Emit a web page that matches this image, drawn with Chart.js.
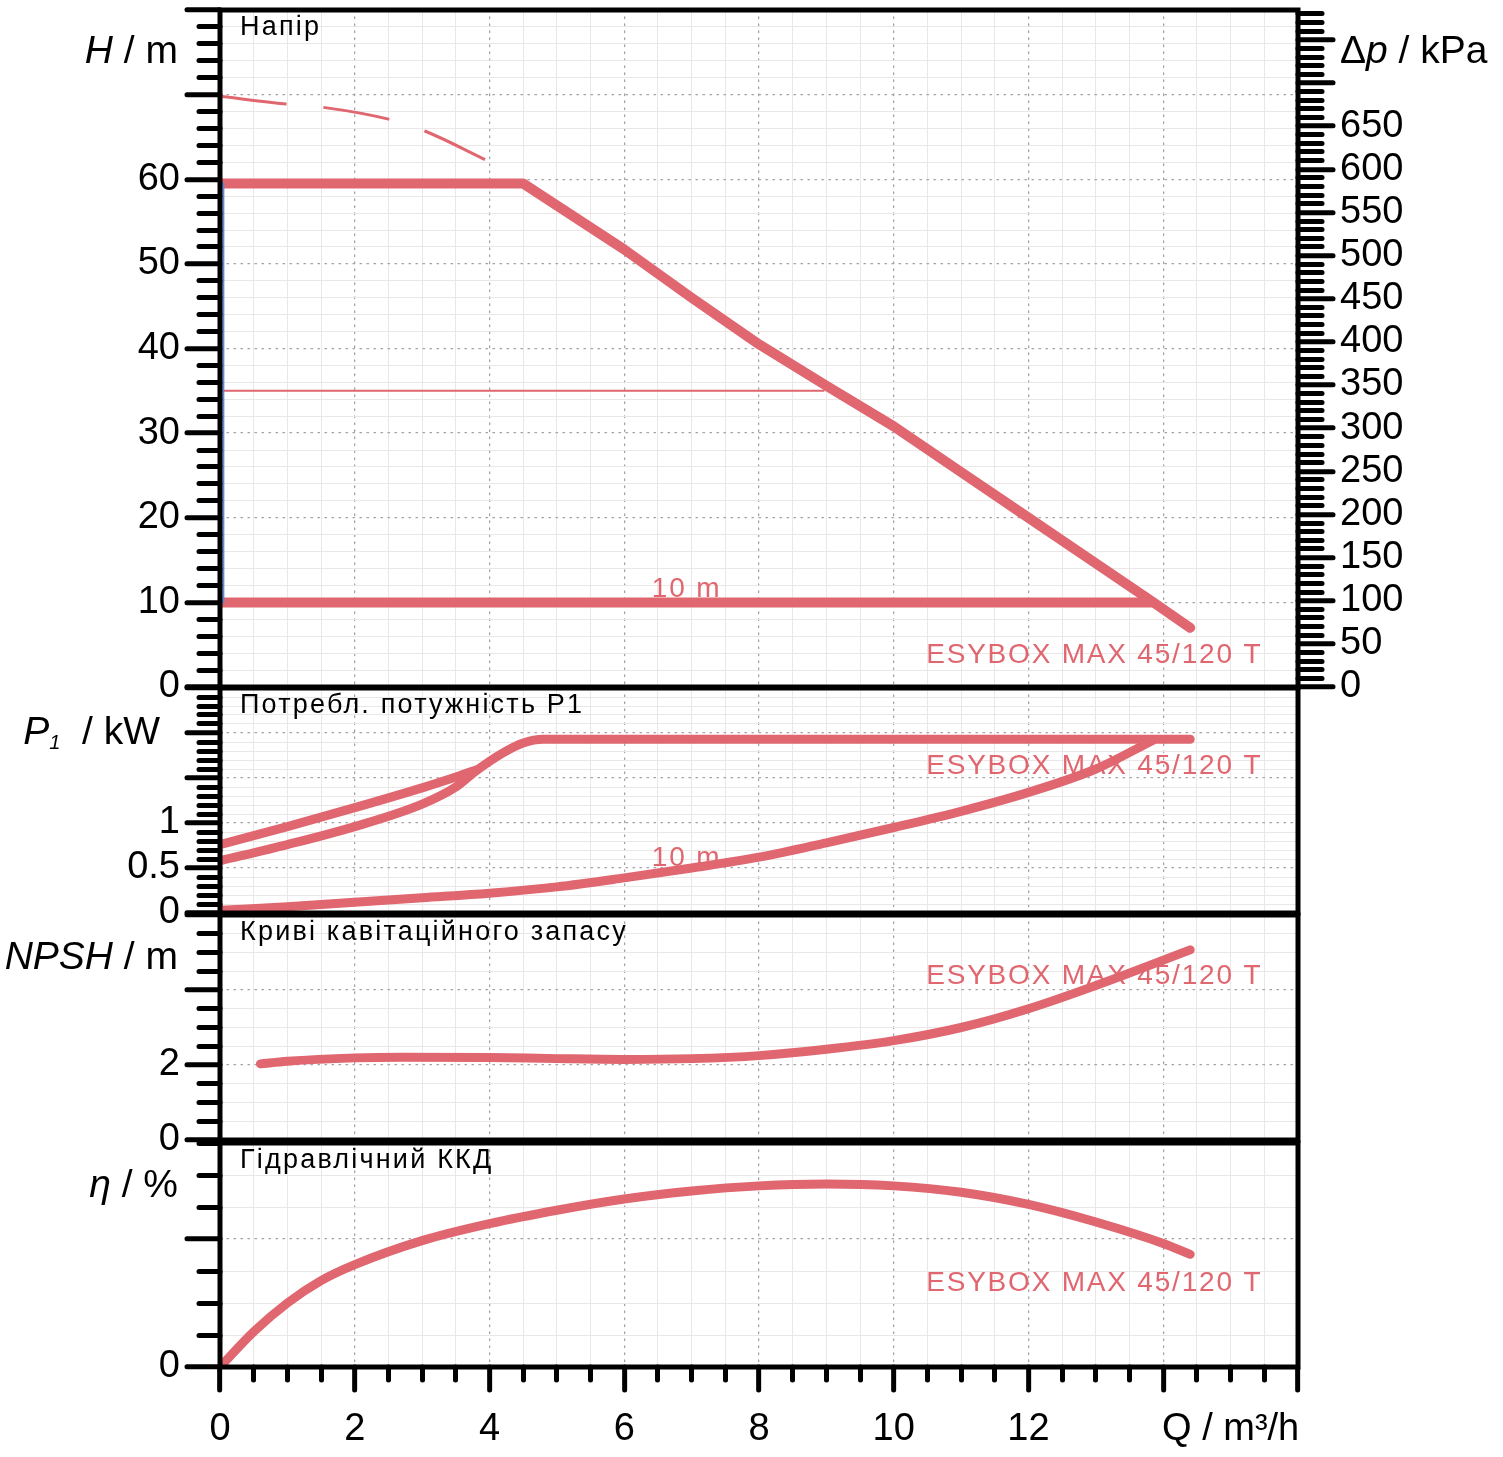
<!DOCTYPE html>
<html>
<head>
<meta charset="utf-8">
<script src="https://cdn.jsdelivr.net/npm/chart.js@4.4.1/dist/chart.umd.min.js"></script>
<style>
  html, body { margin: 0; padding: 0; background: #fff; }
  #wrap { position: relative; width: 1503px; height: 1457px; overflow: hidden; }
  #wrap canvas { position: absolute; left: 0; }
</style>
</head>
<body>
<div id="wrap">
  <canvas id="cH" width="1503" height="720" style="top:0px"></canvas>
  <canvas id="cP" width="1503" height="270" style="top:670px"></canvas>
  <canvas id="cN" width="1503" height="270" style="top:895px"></canvas>
  <canvas id="cE" width="1503" height="337" style="top:1120px"></canvas>
</div>
<script>
// Q axis, m³/h
const qMin = 0, qMax = 16;
const qLabelled = [0, 2, 4, 6, 8, 10, 12];
const qUnitTick = 15;
const qUnitText = 'Q / m³/h';

// Напір (H, m) + Δp (kPa)
const hMin = 0, hMax = 80;
const hLabelled = [0, 10, 20, 30, 40, 50, 60];
const dpMax = 80 * 9.80665;
const dpLabelled = [0, 50, 100, 150, 200, 250, 300, 350, 400, 450, 500, 550, 600, 650];
const qMaxCurve = [0, 0.98, 1.53, 2.5, 3.04, 3.94];
const hMaxCurve = [69.8, 68.9, 68.5, 67.1, 65.7, 62.3];
const qHead = [0, 4.5, 6, 7, 8, 9, 10, 11, 12, 13, 13.8, 14.4];
const hHead = [59.5, 59.5, 51.7, 46.0, 40.5, 35.6, 30.8, 25.4, 20.0, 14.6, 10.3, 7.0];
const qHead10 = [0, 13.82];
const hHead10 = [10, 10];
const qSetpoint = [0, 8.96];
const hSetpoint = [35, 35];
const qLimit = [0.05, 0.05];
const hLimit = [10, 59.5];

// Потребл. потужність P1 (kW)
const pMin = 0, pMax = 2.5;
const pLabelled = [0, 0.5, 1];
const qPowerMax = [0, 1, 2, 3, 3.5, 3.8];
const pPowerMax = [0.76, 0.96, 1.17, 1.39, 1.51, 1.59];
const qPower = [0, 1, 2, 3, 3.5, 3.8, 4.2, 4.5, 4.8, 14.4];
const pPower = [0.58, 0.76, 0.96, 1.21, 1.4, 1.58, 1.78, 1.89, 1.93, 1.93];
const qPower10 = [0, 1, 2, 3, 4, 5, 6, 7, 8, 9, 10, 11, 12, 13, 13.85];
const pPower10 = [0.03, 0.07, 0.12, 0.17, 0.22, 0.29, 0.39, 0.5, 0.62, 0.78, 0.95, 1.13, 1.34, 1.6, 1.92];

// NPSH (m)
const nMin = 0, nMax = 6;
const nLabelled = [0, 2];
const qNpsh = [0.6, 1, 2, 2.7, 4, 5, 6, 7, 8, 9, 10, 11, 12, 13, 14.4];
const nNpsh = [2.03, 2.1, 2.19, 2.21, 2.2, 2.17, 2.15, 2.17, 2.25, 2.42, 2.65, 3.0, 3.5, 4.12, 5.07];

// Гідравлічний ККД (η, %)
const eMin = 0, eMax = 70;
const eLabelled = [0];
const qEff = [0, 0.5, 1, 1.5, 2, 3, 4, 5, 6, 7, 8, 9, 10, 11, 12, 13, 14, 14.4];
const eEff = [0, 11, 20, 27, 32, 39.5, 44.8, 49, 52.5, 55, 56.6, 57.2, 56.6, 54.6, 50.8, 45.3, 38.6, 35.2];

const pumpName = 'ESYBOX MAX 45/120 T';
const FONT = "'Liberation Sans', Arial, sans-serif";
const RED = '#e0666f';
const LIGHT = '#ebe7e7';
const DOTS = '#a3a3a3';

Chart.defaults.font.family = FONT;
Chart.defaults.color = '#000';
Chart.defaults.animation = false;

const isMult = (v, m) => Math.abs(v / m - Math.round(v / m)) < 1e-6;
const inList = (list, v) => list.some(l => Math.abs(l - v) < 1e-6);
const pts = (qs, vs) => qs.map((q, i) => ({ x: q, y: vs[i] }));
const tv = c => (c && c.tick ? c.tick.value : 0);

function curve(qs, vs, opts) {
    return Object.assign({
        data: pts(qs, vs),
        borderColor: RED,
        borderWidth: 9,
        pointRadius: 0,
        borderCapStyle: 'round',
        borderJoinStyle: 'round',
        cubicInterpolationMode: 'monotone',
        fill: false
    }, opts);
}

// major ticks long + dotted grid, minor ticks short + light grid
function gridOpts(major, longLen, shortLen, farFirst) {
    return {
        color: c => isMult(tv(c), major) ? DOTS : LIGHT,
        lineWidth: c => isMult(tv(c), major) ? 1.3 : 1,
        tickColor: '#000',
        tickWidth: 5,
        tickLength: longLen,
        tickBorderDash: c => isMult(tv(c), major) ? [] : [shortLen, 200],
        tickBorderDashOffset: c => (isMult(tv(c), major) || !farFirst) ? 0 : -(longLen - shortLen)
    };
}

function xAxis(showLabels) {
    return {
        type: 'linear', position: 'bottom', min: qMin, max: qMax,
        ticks: {
            display: showLabels, stepSize: 0.5, autoSkip: false, maxRotation: 0, includeBounds: false,
            padding: 17, font: { size: 38 },
            callback: v => v === qUnitTick ? qUnitText : (inList(qLabelled, v) ? String(v) : '')
        },
        grid: Object.assign(gridOpts(2, 23, 13, false), { drawTicks: showLabels }),
        border: { display: false, dash: c => isMult(tv(c), 2) ? [1.5, 5.5] : [] },
        afterFit: s => { s.height = showLabels ? 90 : 0; s.paddingLeft = 0; s.paddingRight = 0; }
    };
}

function leftAxis(min, max, step, major, labelled) {
    return {
        type: 'linear', position: 'left', min, max,
        ticks: {
            stepSize: step, autoSkip: false, includeBounds: false, padding: 7, font: { size: 38 },
            callback: v => inList(labelled, v) ? String(v) : ''
        },
        grid: gridOpts(major, 33, 21, true),
        border: { display: false, dash: c => isMult(tv(c), major) ? [1.5, 5.5] : [] },
        afterFit: s => { s.width = 220; s.paddingTop = 0; s.paddingBottom = 0; }
    };
}

function fontStr(p) {
    return (p[1] ? 'italic ' : '') + (p[2] || 39) + 'px ' + FONT;
}

function richText(ctx, parts, x, y, align) {
    const widths = parts.map(p => { ctx.font = fontStr(p); return ctx.measureText(p[0]).width; });
    let cx = align === 'right' ? x - widths.reduce((a, b) => a + b, 0) : x;
    ctx.textAlign = 'left';
    ctx.textBaseline = 'middle';
    parts.forEach((p, i) => {
        ctx.font = fontStr(p);
        ctx.fillText(p[0], cx, y + (p[3] || 0));
        cx += widths[i];
    });
}

function panelText(ctx, c, title) {
    ctx.save();
    ctx.fillStyle = '#000';
    ctx.font = '27px ' + FONT;
    ctx.letterSpacing = '2.2px';
    ctx.textAlign = 'left';
    ctx.textBaseline = 'middle';
    ctx.fillText(title, c.chartArea.left + 20, c.chartArea.top + 18);
    ctx.restore();
}

function redText(ctx, text, x, y, align) {
    ctx.save();
    ctx.fillStyle = RED;
    ctx.font = '28px ' + FONT;
    ctx.letterSpacing = '1.8px';
    ctx.textAlign = align;
    ctx.textBaseline = 'middle';
    ctx.fillText(text, x, y);
    ctx.restore();
}

function decor(draw) {
    return {
        id: 'decor',
        beforeDraw: c => { c.ctx.lineCap = 'round'; },
        afterDraw: c => {
            const ctx = c.ctx, a = c.chartArea;
            ctx.save();
            ctx.lineCap = 'butt';
            ctx.lineWidth = 5;
            ctx.strokeStyle = '#000';
            ctx.strokeRect(a.left, a.top, a.right - a.left, a.bottom - a.top);
            draw(ctx, c);
            ctx.restore();
            c.ctx.lineCap = 'butt';
        }
    };
}

function makeChart(id, datasets, scales, padding, draw) {
    return new Chart(document.getElementById(id), {
        type: 'line',
        data: { datasets },
        options: {
            responsive: false,
            devicePixelRatio: 1,
            events: [],
            layout: { padding, autoPadding: false },
            plugins: { legend: { display: false }, tooltip: { enabled: false } },
            scales
        },
        plugins: [decor(draw)]
    });
}

const X = (c, v) => c.scales.x.getPixelForValue(v);
const Y = (c, v, id) => c.scales[id || 'y'].getPixelForValue(v);

// Напір
makeChart('cH', [
    curve(qLimit, hLimit, { borderColor: '#5b8bd0', borderWidth: 2, cubicInterpolationMode: 'default', tension: 0 }),
    curve(qSetpoint, hSetpoint, { borderWidth: 2, cubicInterpolationMode: 'default', tension: 0 }),
    curve(qMaxCurve, hMaxCurve, { borderWidth: 3, borderDash: [67, 37], borderCapStyle: 'butt' }),
    curve(qHead10, hHead10, { borderWidth: 10, cubicInterpolationMode: 'default', tension: 0 }),
    curve(qHead, hHead, { borderWidth: 10, cubicInterpolationMode: 'default', tension: 0 })
], {
    x: xAxis(false),
    y: leftAxis(hMin, hMax, 2, 10, hLabelled),
    yp: {
        type: 'linear', position: 'right', min: 0, max: dpMax,
        ticks: {
            stepSize: 10, autoSkip: false, includeBounds: false, padding: 7, font: { size: 38 },
            callback: v => inList(dpLabelled, v) ? String(v) : ''
        },
        grid: Object.assign(gridOpts(50, 35, 24, false), { drawOnChartArea: false }),
        border: { display: false },
        afterFit: s => { s.width = 205; s.paddingTop = 0; s.paddingBottom = 0; }
    }
}, { top: 10, right: 0, bottom: 33, left: 0 }, (ctx, c) => {
    const a = c.chartArea;
    ctx.fillStyle = '#000';
    richText(ctx, [['H', true], [' / ', false], ['m', false]], a.left - 42, Y(c, 75), 'right');
    richText(ctx, [['Δ', false], ['p', true], [' / kPa', false]], a.right + 42, Y(c, 736, 'yp'), 'left');
    panelText(ctx, c, 'Напір');
    redText(ctx, '10 m', X(c, 6.41), Y(c, 11.5), 'left');
    redText(ctx, pumpName, X(c, 15.47), Y(c, 3.8), 'right');
});

// Потребл. потужність P1
makeChart('cP', [
    curve(qPowerMax, pPowerMax),
    curve(qPower, pPower),
    curve(qPower10, pPower10)
], {
    x: xAxis(false),
    y: leftAxis(pMin, pMax, 0.1, 0.5, pLabelled)
}, { top: 18, right: 205, bottom: 27, left: 0 }, (ctx, c) => {
    const a = c.chartArea;
    ctx.fillStyle = '#000';
    richText(ctx, [['P', true], ['1', true, 20, 10], ['  / kW', false]], a.left - 60, Y(c, 2.0), 'right');
    panelText(ctx, c, 'Потребл. потужність P1');
    redText(ctx, '10 m', X(c, 6.41), Y(c, 0.61), 'left');
    redText(ctx, pumpName, X(c, 15.47), Y(c, 1.63), 'right');
});

// Криві кавітаційного запасу
makeChart('cN', [
    curve(qNpsh, nNpsh)
], {
    x: xAxis(false),
    y: leftAxis(nMin, nMax, 0.5, 2, nLabelled)
}, { top: 20, right: 205, bottom: 25, left: 0 }, (ctx, c) => {
    const a = c.chartArea;
    ctx.fillStyle = '#000';
    richText(ctx, [['NPSH', true], [' / ', false], ['m', false]], a.left - 42, Y(c, 4.85), 'right');
    panelText(ctx, c, 'Криві кавітаційного запасу');
    redText(ctx, pumpName, X(c, 15.47), Y(c, 4.37), 'right');
});

// Гідравлічний ККД
makeChart('cE', [
    curve(qEff, eEff)
], {
    x: xAxis(true),
    y: leftAxis(eMin, eMax, 10, 40, eLabelled)
}, { top: 23, right: 205, bottom: 0, left: 0 }, (ctx, c) => {
    const a = c.chartArea;
    ctx.fillStyle = '#000';
    richText(ctx, [['η', true], [' / ', false], ['%', false]], a.left - 42, Y(c, 56.5), 'right');
    panelText(ctx, c, 'Гідравлічний ККД');
    redText(ctx, pumpName, X(c, 15.47), Y(c, 26.25), 'right');
});
</script>
</body>
</html>
